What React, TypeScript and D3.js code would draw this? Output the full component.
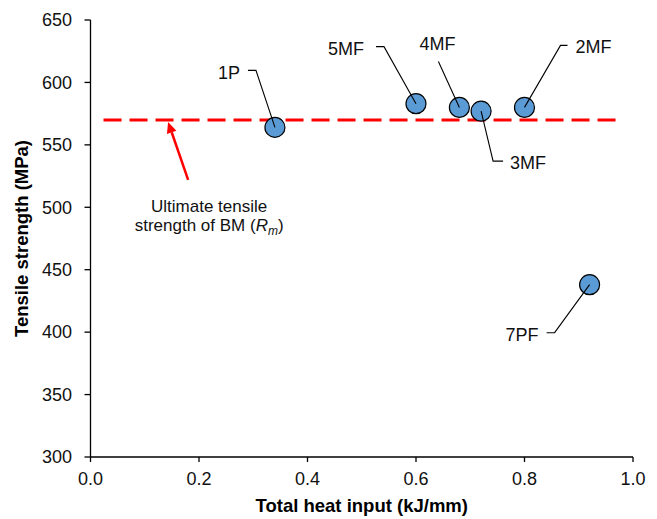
import React from 'react';
import { scaleLinear, range } from 'd3';

// values
const labels = ['1P', '5MF', '4MF', '3MF', '2MF', '7PF'];
const heatInput = [0.34, 0.60, 0.68, 0.72, 0.80, 0.92];
const strength = [564, 583, 580, 577, 580, 438];
const rmValue = 570;
const xTicks = [0, 0.2, 0.4, 0.6, 0.8, 1.0];
const yTicks = [300, 350, 400, 450, 500, 550, 600, 650];

// callout layout: pixel offsets from each point (elbow, end of stub, text pos)
const callouts = [
  { elbow: [-19, -57], stub: [-27, -57], text: [-35, -48], anchor: 'end' },
  { elbow: [-32, -57], stub: [-40, -57], text: [-52, -49], anchor: 'end' },
  { elbow: [-21, -46], stub: [-21, -46], text: [-22, -57], anchor: 'middle' },
  { elbow: [12, 50], stub: [22, 50], text: [29, 58], anchor: 'start' },
  { elbow: [36, -62], stub: [43, -62], text: [51, -54], anchor: 'start' },
  { elbow: [-35, 48], stub: [-43, 48], text: [-51, 56], anchor: 'end' },
];

const W = 657;
const H = 519;
const font = '"Liberation Sans", Arial, sans-serif';

const App = () => {
  const x = scaleLinear().domain([0, 1]).range([90.5, 633]);
  const y = scaleLinear().domain([300, 650]).range([457, 20]);

  const tip = [x(0.143), y(rmValue) + 2];
  const tail = [x(0.18), y(522)];
  const ang = Math.atan2(tip[1] - tail[1], tip[0] - tail[0]);
  const hl = 11, hw = 5;
  const bx = tip[0] - hl * Math.cos(ang), by = tip[1] - hl * Math.sin(ang);
  const head = [
    tip,
    [bx + hw * Math.sin(ang), by - hw * Math.cos(ang)],
    [bx - hw * Math.sin(ang), by + hw * Math.cos(ang)],
  ].map(p => p.join(',')).join(' ');

  return (
    <svg width={W} height={H} style={{ position: 'absolute', left: 0, top: 0, background: '#fff' }}
      fontFamily={font}>
      {/* axes */}
      <line x1={x(0)} x2={x(0)} y1={y(650)} y2={y(300)} stroke="#000" strokeWidth={1.3} />
      <line x1={x(0)} x2={x(1)} y1={y(300)} y2={y(300)} stroke="#000" strokeWidth={1.3} />
      {yTicks.map(t => (
        <g key={t}>
          <line x1={x(0) - 6} x2={x(0)} y1={y(t)} y2={y(t)} stroke="#000" strokeWidth={1.3} />
          <text x={72} y={y(t)} dy="0.35em" textAnchor="end" fontSize={18} fill="#111">{t}</text>
        </g>
      ))}
      {xTicks.map(t => (
        <g key={t}>
          <line x1={x(t)} x2={x(t)} y1={y(300)} y2={y(300) + 5} stroke="#000" strokeWidth={1.3} />
          <text x={x(t)} y={485} textAnchor="middle" fontSize={18} fill="#111">{t.toFixed(1)}</text>
        </g>
      ))}
      <text x={(x(0) + x(1)) / 2} y={512} textAnchor="middle" fontSize={18.5} fontWeight="bold" fill="#000">
        Total heat input (kJ/mm)
      </text>
      <text transform={`translate(28,${(y(300) + y(650)) / 2}) rotate(-90)`} textAnchor="middle"
        fontSize={18.5} fontWeight="bold" fill="#000">
        Tensile strength (MPa)
      </text>

      {/* base metal Rm line */}
      <line x1={x(0.024)} x2={x(0.976)} y1={y(rmValue)} y2={y(rmValue)} stroke="#ff0000"
        strokeWidth={3} strokeDasharray="18 8" />

      {/* points */}
      {range(labels.length).map(i => (
        <circle key={labels[i]} cx={x(heatInput[i])} cy={y(strength[i])} r={10}
          fill="#5b9bd5" stroke="#000" strokeWidth={1.2} />
      ))}

      {/* callouts */}
      {range(labels.length).map(i => {
        const px = x(heatInput[i]), py = y(strength[i]);
        const c = callouts[i];
        return (
          <g key={'c' + i}>
            <polyline
              points={`${px},${py} ${px + c.elbow[0]},${py + c.elbow[1]} ${px + c.stub[0]},${py + c.stub[1]}`}
              fill="none" stroke="#000" strokeWidth={1.1} />
            <text x={px + c.text[0]} y={py + c.text[1]} textAnchor={c.anchor} fontSize={18} fill="#111">
              {labels[i]}
            </text>
          </g>
        );
      })}

      {/* Rm annotation */}
      <line x1={tail[0]} y1={tail[1]} x2={bx} y2={by} stroke="#ff0000" strokeWidth={2.5} />
      <polygon points={head} fill="#ff0000" />
      <text x={tail[0] + 21} y={tail[1] + 32} textAnchor="middle" fontSize={17} fill="#111">
        Ultimate tensile
      </text>
      <text x={tail[0] + 21} y={tail[1] + 51} textAnchor="middle" fontSize={17} fill="#111">
        strength of BM (<tspan fontStyle="italic">R</tspan>
        <tspan fontStyle="italic" fontSize={12} dy={4}>m</tspan>
        <tspan dy={-4}>)</tspan>
      </text>
    </svg>
  );
};

export default App;
